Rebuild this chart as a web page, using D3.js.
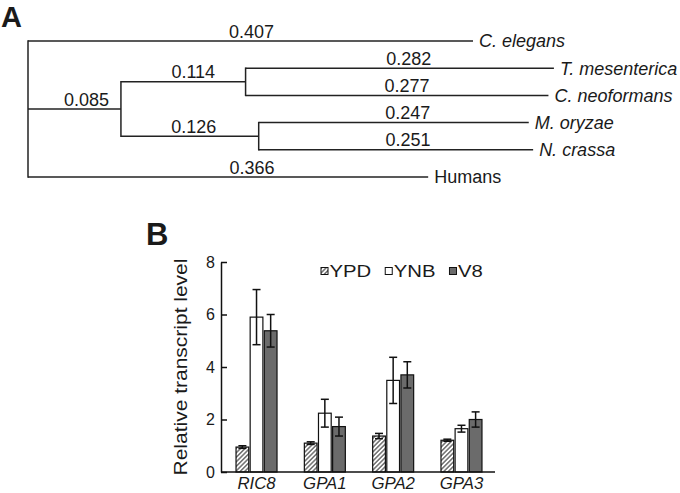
<!DOCTYPE html>
<html>
<head>
<meta charset="utf-8">
<script src="https://cdn.jsdelivr.net/npm/d3@7/dist/d3.min.js"></script>
<style>
  html, body { margin: 0; padding: 0; background: #fff; }
  svg { display: block; font-family: "Liberation Sans", Arial, Helvetica, sans-serif; }
</style>
</head>
<body>
<svg id="chart" width="680" height="493"></svg>
<script>
// ---------- Panel A data: phylogenetic tree ----------
const nodeIds      = ["root", "C. elegans", "fungi", "basidio", "T. mesenterica", "C. neoformans", "ascomy", "M. oryzae", "N. crassa", "Humans"];
const nodeParents  = ["",     "root",       "root",  "fungi",   "basidio",        "basidio",       "fungi",  "ascomy",    "ascomy",    "root"];
const branchLength = [0,      0.407,        0.085,   0.114,     0.282,            0.277,           0.126,    0.247,       0.251,       0.366];
const branchLabels = ["",     "0.407",      "0.085", "0.114",   "0.282",          "0.277",         "0.126",  "0.247",     "0.251",     "0.366"];

// ---------- Panel B data: bar chart ----------
const genes      = ["RIC8", "GPA1", "GPA2", "GPA3"];
const media      = ["YPD", "YNB", "V8"];
const ypdValues  = [0.95, 1.10, 1.37, 1.21];
const ypdErrors  = [0.05, 0.05, 0.10, 0.04];
const ynbValues  = [5.90, 2.24, 3.49, 1.65];
const ynbErrors  = [1.05, 0.53, 0.88, 0.13];
const v8Values   = [5.38, 1.73, 3.70, 2.00];
const v8Errors   = [0.62, 0.36, 0.50, 0.29];
const yTicks     = [0, 2, 4, 6, 8];

const svg = d3.select("#chart");
const ink = "#1a1a1a";

// ================= Panel A =================
svg.append("text").attr("x", 1).attr("y", 27)
  .attr("font-size", 29).attr("font-weight", "bold").attr("fill", ink).text("A");

const table = nodeIds.map((id, i) => ({ id, parent: nodeParents[i] || null, len: branchLength[i], label: branchLabels[i] }));
const root = d3.stratify().id(d => d.id).parentId(d => d.parent)(table);
root.eachBefore(n => { n.dist = n.parent ? n.parent.dist + n.data.len : 0; });

const leaves = root.leaves().map(l => l.id);
const xTree = d3.scaleLinear().domain([0, 0.407]).range([28, 473]);
const yTree = d3.scalePoint().domain(leaves).range([41, 177]);

root.eachAfter(n => {
  if (!n.children) n.yPos = yTree(n.id);
  else {
    const ys = n.children.map(c => c.yPos);
    n.yMin = d3.min(ys); n.yMax = d3.max(ys);
    n.yPos = (n.yMin + n.yMax) / 2;
  }
});

const gTree = svg.append("g").attr("stroke", "#222").attr("stroke-width", 1.5).attr("fill", "none");
root.descendants().forEach(n => {
  if (n.children) {
    gTree.append("line").attr("x1", xTree(n.dist)).attr("x2", xTree(n.dist))
      .attr("y1", n.yMin - 0.75).attr("y2", n.yMax + 0.75);
  }
  if (n.parent) {
    gTree.append("line").attr("x1", xTree(n.parent.dist)).attr("x2", xTree(n.dist))
      .attr("y1", n.yPos).attr("y2", n.yPos);
  }
});

// label nudges (layout only)
const labelNudge = { "fungi": 12, "basidio": 10, "ascomy": 4, "C. elegans": 1, "T. mesenterica": 9,
  "C. neoformans": 10, "M. oryzae": 14, "N. crassa": 12, "Humans": 24 };

const gLab = svg.append("g").attr("font-size", 18).attr("fill", ink);
root.descendants().filter(n => n.parent).forEach(n => {
  const mid = (xTree(n.parent.dist) + xTree(n.dist)) / 2 + (labelNudge[n.id] || 0);
  gLab.append("text").attr("x", mid).attr("y", n.yPos - 3.5)
    .attr("text-anchor", "middle").text(n.data.label);
});
root.leaves().forEach(n => {
  gLab.append("text").attr("x", xTree(n.dist) + 6).attr("y", n.yPos)
    .attr("dy", "0.36em")
    .attr("font-style", n.id === "Humans" ? "normal" : "italic")
    .text(n.id);
});

// ================= Panel B =================
svg.append("text").attr("x", 146).attr("y", 245)
  .attr("font-size", 31).attr("font-weight", "bold").attr("fill", ink).text("B");

const defs = svg.append("defs");
const pat = defs.append("pattern").attr("id", "hatch").attr("patternUnits", "userSpaceOnUse")
  .attr("width", 3.2).attr("height", 3.2).attr("patternTransform", "rotate(45)");
pat.append("rect").attr("width", 3.2).attr("height", 3.2).attr("fill", "#fff");
pat.append("line").attr("x1", 0.8).attr("y1", 0).attr("x2", 0.8).attr("y2", 3.2)
  .attr("stroke", "#3a3a3a").attr("stroke-width", 1.1);

const fills = { "YPD": "url(#hatch)", "YNB": "#ffffff", "V8": "#6b6b6b" };
const seriesValues = { "YPD": ypdValues, "YNB": ynbValues, "V8": v8Values };
const seriesErrors = { "YPD": ypdErrors, "YNB": ynbErrors, "V8": v8Errors };

const x0 = d3.scaleBand().domain(genes).range([221, 497]).paddingInner(0.4).paddingOuter(0.22);
const x1 = d3.scaleBand().domain(media).range([0, x0.bandwidth()]).paddingInner(0.1);
const y = d3.scaleLinear().domain([0, 8]).range([472, 262]);

// bars
const gBars = svg.append("g");
genes.forEach((g, gi) => {
  media.forEach(m => {
    const v = seriesValues[m][gi], e = seriesErrors[m][gi];
    const bx = x0(g) + x1(m);
    gBars.append("rect").attr("x", bx).attr("y", y(v))
      .attr("width", x1.bandwidth()).attr("height", y(0) - y(v))
      .attr("fill", fills[m]).attr("stroke", "#111").attr("stroke-width", 1.2);
    const cx = bx + x1.bandwidth() / 2;
    const eb = gBars.append("g").attr("stroke", "#111").attr("stroke-width", 1.5);
    eb.append("line").attr("x1", cx).attr("x2", cx).attr("y1", y(v + e)).attr("y2", y(v - e));
    eb.append("line").attr("x1", cx - 4).attr("x2", cx + 4).attr("y1", y(v + e)).attr("y2", y(v + e));
    eb.append("line").attr("x1", cx - 4).attr("x2", cx + 4).attr("y1", y(v - e)).attr("y2", y(v - e));
  });
});

// y axis
const yAxis = svg.append("g").attr("transform", "translate(221,0)")
  .call(d3.axisLeft(y).tickValues(yTicks).tickFormat(d3.format("d"))
    .tickSizeInner(-6).tickSizeOuter(0).tickPadding(6));
yAxis.selectAll("path, line").attr("stroke", "#111").attr("stroke-width", 1.5);
yAxis.selectAll("text").attr("font-size", 16).attr("fill", ink)
  .attr("font-family", "'Liberation Sans', Arial, sans-serif");

// x axis
const xAxis = svg.append("g").attr("transform", "translate(0,472)")
  .call(d3.axisBottom(x0).tickSize(0).tickSizeOuter(0).tickPadding(6));
xAxis.select(".domain").attr("stroke", "#111").attr("stroke-width", 1.5)
  .attr("d", "M221,0H495");
xAxis.selectAll("text").attr("font-size", 16).attr("font-style", "italic").attr("fill", ink)
  .attr("font-family", "'Liberation Sans', Arial, sans-serif")
  .attr("transform", "scale(1.05,1)");

// y label
svg.append("text").attr("transform", "translate(187,367) rotate(-90) scale(1.2,1)")
  .attr("text-anchor", "middle").attr("font-size", 17.5).attr("fill", ink)
  .text("Relative transcript level");

// legend
const gLeg = svg.append("g");
let lx = 321;
const legY = 271.5;
media.forEach(m => {
  gLeg.append("rect").attr("x", lx).attr("y", legY - 4).attr("width", 7).attr("height", 7)
    .attr("fill", fills[m]).attr("stroke", "#111").attr("stroke-width", 1);
  const t = gLeg.append("text").attr("transform", `translate(${lx + 8.5},276.5) scale(1.27,1)`)
    .attr("font-size", 16).attr("fill", ink).text(m);
  const w = t.node().getComputedTextLength() * 1.27;
  lx += 8.5 + w + 14;
});
</script>
</body>
</html>
